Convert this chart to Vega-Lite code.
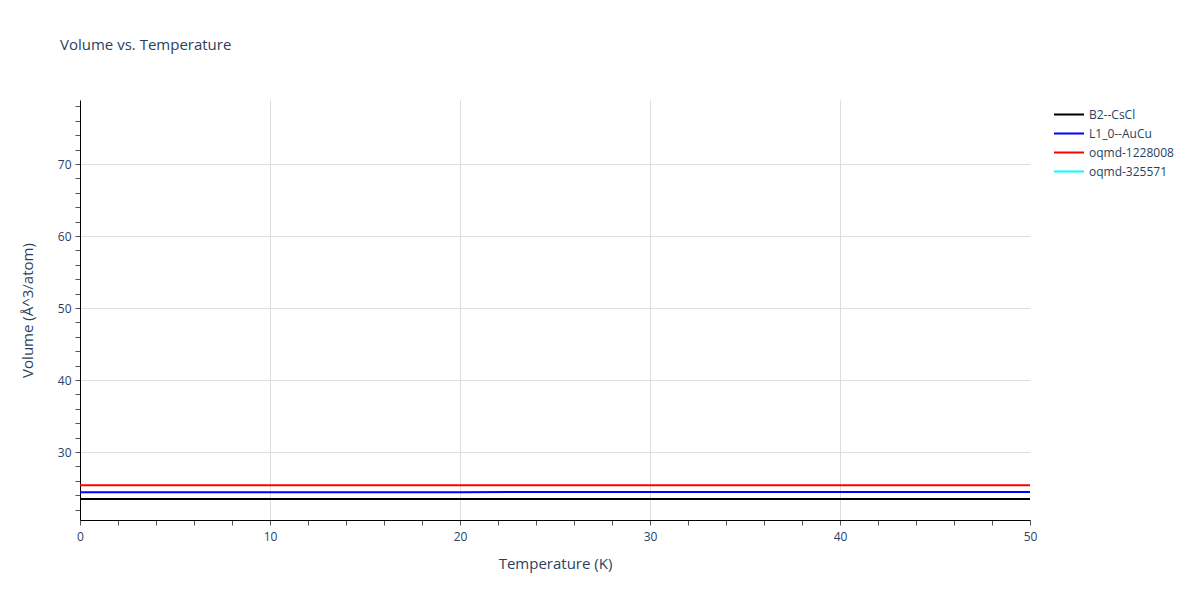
{
  "$schema": "https://vega.github.io/schema/vega-lite/v6.json",
  "width": 950,
  "height": 420,
  "autosize": {"type": "none"},
  "padding": {"left": 80, "top": 100, "right": 170, "bottom": 80},
  "background": "white",
  "title": {
    "text": "Volume vs. Temperature",
    "anchor": "start",
    "frame": "group",
    "font": "Open Sans",
    "fontSize": 15,
    "fontWeight": "normal",
    "color": "#2a3f5f",
    "dx": -20,
    "offset": 47
  },
  "config": {
    "view": {"stroke": null},
    "font": "Open Sans"
  },
  "data": {
    "values": [
      {"T": 0, "V": 23.47, "s": "B2--CsCl"},
      {"T": 10, "V": 23.47, "s": "B2--CsCl"},
      {"T": 20, "V": 23.47, "s": "B2--CsCl"},
      {"T": 30, "V": 23.47, "s": "B2--CsCl"},
      {"T": 40, "V": 23.48, "s": "B2--CsCl"},
      {"T": 50, "V": 23.48, "s": "B2--CsCl"},
      {"T": 0, "V": 24.43, "s": "L1_0--AuCu"},
      {"T": 10, "V": 24.43, "s": "L1_0--AuCu"},
      {"T": 20, "V": 24.43, "s": "L1_0--AuCu"},
      {"T": 30, "V": 24.44, "s": "L1_0--AuCu"},
      {"T": 40, "V": 24.44, "s": "L1_0--AuCu"},
      {"T": 50, "V": 24.44, "s": "L1_0--AuCu"},
      {"T": 0, "V": 25.37, "s": "oqmd-1228008"},
      {"T": 10, "V": 25.37, "s": "oqmd-1228008"},
      {"T": 20, "V": 25.37, "s": "oqmd-1228008"},
      {"T": 30, "V": 25.38, "s": "oqmd-1228008"},
      {"T": 40, "V": 25.38, "s": "oqmd-1228008"},
      {"T": 50, "V": 25.39, "s": "oqmd-1228008"}
    ]
  },
  "mark": {"type": "line", "strokeWidth": 2, "clip": true},
  "encoding": {
    "x": {
      "field": "T",
      "type": "quantitative",
      "scale": {"domain": [0, 50], "nice": false, "zero": false},
      "axis": {
        "title": "Temperature (K)",
        "titleFont": "Open Sans",
        "titleFontSize": 15,
        "titleFontWeight": "normal",
        "titleColor": "#2a3f5f",
        "titlePadding": 14,
        "values": [0,2,4,6,8,10,12,14,16,18,20,22,24,26,28,30,32,34,36,38,40,42,44,46,48,50],
        "labelExpr": "datum.value % 10 === 0 ? datum.label : ''",
        "labelFont": "Open Sans",
        "labelFontSize": 12,
        "labelColor": "#2a3f5f",
        "labelPadding": 6,
        "labelFlush": false,
        "domainColor": "#000000",
        "domainWidth": 1,
        "tickColor": "#555555",
        "tickSize": 5,
        "tickWidth": 1,
        "grid": true,
        "gridColor": "#dddddd",
        "gridWidth": 1,
        "gridOpacity": {"condition": {"test": "datum.value % 10 === 0 && datum.value > 0 && datum.value < 50", "value": 1}, "value": 0}
      }
    },
    "y": {
      "field": "V",
      "type": "quantitative",
      "scale": {"domain": [20.56, 78.9], "nice": false, "zero": false},
      "axis": {
        "title": "Volume (Å^3/atom)",
        "titleFont": "Open Sans",
        "titleFontSize": 15,
        "titleFontWeight": "normal",
        "titleColor": "#2a3f5f",
        "titlePadding": 22,
        "values": [22,24,26,28,30,32,34,36,38,40,42,44,46,48,50,52,54,56,58,60,62,64,66,68,70,72,74,76,78],
        "labelExpr": "datum.value % 10 === 0 ? datum.label : ''",
        "labelFont": "Open Sans",
        "labelFontSize": 12,
        "labelColor": "#2a3f5f",
        "labelPadding": 4,
        "domainColor": "#000000",
        "domainWidth": 1,
        "tickColor": "#555555",
        "tickSize": 5,
        "tickWidth": 1,
        "grid": true,
        "gridColor": "#dddddd",
        "gridWidth": 1,
        "gridOpacity": {"condition": {"test": "datum.value % 10 === 0", "value": 1}, "value": 0}
      }
    },
    "color": {
      "field": "s",
      "type": "nominal",
      "scale": {
        "domain": ["B2--CsCl", "L1_0--AuCu", "oqmd-1228008", "oqmd-325571"],
        "range": ["#000000", "#0000ff", "#ff0000", "#00ffff"]
      },
      "legend": {
        "title": null,
        "orient": "none",
        "legendX": 973,
        "legendY": 8,
        "symbolType": "stroke",
        "symbolSize": 900,
        "symbolStrokeWidth": 2,
        "clipHeight": 13,
        "labelFont": "Open Sans",
        "labelFontSize": 12,
        "labelColor": "#2a3f5f",
        "rowPadding": 6,
        "labelOffset": 4
      }
    }
  }
}
